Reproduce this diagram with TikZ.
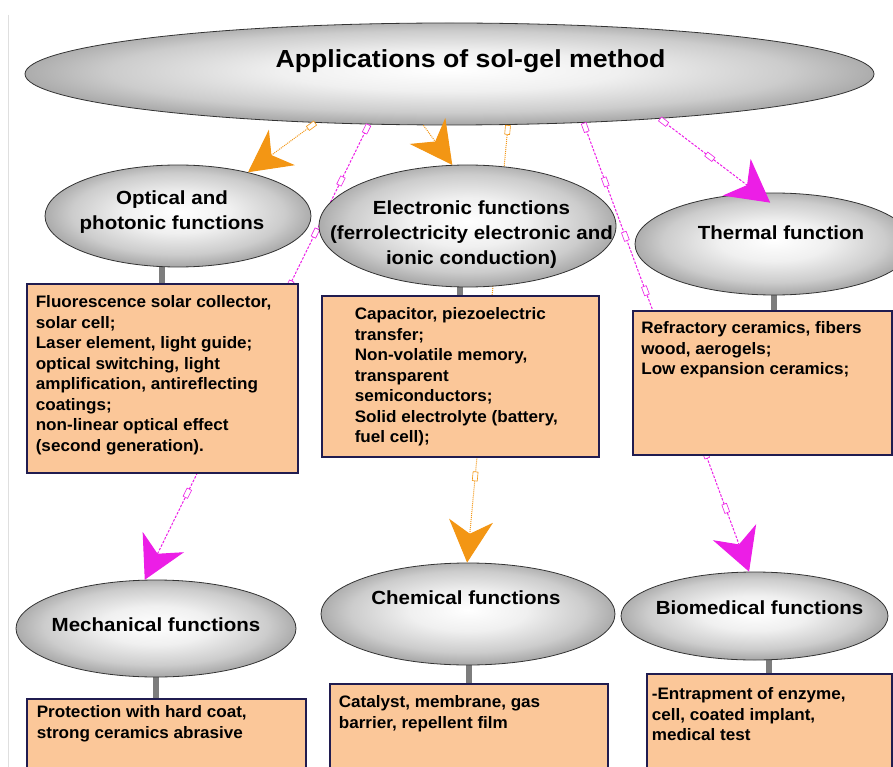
\documentclass[tikz,border=0pt]{standalone}
\usepackage{fontspec}
\setmainfont{Liberation Sans}[FakeStretch=1.08]
\newfontfamily\bodyfont{Liberation Sans}[FakeStretch=1.03]
\usetikzlibrary{shapes.geometric,arrows.meta,decorations.markings}
\definecolor{peach}{RGB}{251,199,153}
\definecolor{navy}{RGB}{32,28,80}
\definecolor{orng}{RGB}{243,150,20}
\definecolor{mgnt}{RGB}{236,30,230}
\definecolor{stemgray}{RGB}{125,125,125}
\pgfdeclarelayer{bg}
\pgfdeclarelayer{fg}
\pgfsetlayers{bg,main,fg}
\pgfdeclareradialshading{ovalshade}{\pgfpoint{0bp}{2bp}}{color(0bp)=(white); color(10bp)=(gray!12); color(20bp)=(gray!40); color(26bp)=(gray!70); color(50bp)=(gray!70)}
\newcommand{\boxbody}[5]{\parbox[c][#2][t]{#1}{\raggedright\leftskip=#4\relax\rule{0pt}{#3}#5}}
\tikzset{oval/.style={ellipse,draw=black!80,line width=0.8pt,shade,shading=ovalshade,inner sep=0pt},
	ovaltext/.style={font=\bfseries\fontsize{19}{25}\selectfont,align=center,inner sep=0pt},
	infobox/.style={draw=navy,line width=1.6pt,fill=peach,inner sep=0pt,anchor=north west,font=\bodyfont\bfseries\fontsize{16.6}{20.5}\selectfont},
	stem/.style={stemgray,line width=6pt},
	tagged/.style={postaction={decorate,decoration={markings,mark=between positions 5pt and -45pt step 58pt with {\draw[#1,solid,fill=white,line width=0.6pt] (-4.5pt,-2.5pt) rectangle (4.5pt,2.5pt);}}}},
	orline/.style={orng,densely dotted,line width=1pt,-{Stealth[length=42pt,width=44pt,inset=13pt]},tagged=orng},
	mgline/.style={mgnt,dash pattern=on 2.5pt off 1.5pt,line width=1pt,-{Stealth[length=42pt,width=46pt,inset=13pt]},tagged=mgnt},
}

\begin{document}
\begin{tikzpicture}[x=1pt,y=-1pt]
	\useasboundingbox (0,0) rectangle (893,767);
	\node[oval,minimum width=849pt,minimum height=102pt,label={[ovaltext,font=\bfseries\fontsize{24.7}{30}\selectfont,shift={(21pt,13pt)}]center:{Applications of sol-gel method}}] (app) at (449.5,74) {};
	
	\node[oval,minimum width=266pt,minimum height=102pt,label={[ovaltext,shift={(-6pt,3.5pt)}]center:{Optical and\\photonic functions}}] (opt) at (178,216) {};
	\node[oval,minimum width=278pt,minimum height=102pt,label={[ovaltext,shift={(7pt,11pt)}]center:{Thermal function}}] (therm) at (774,244) {};
	\node[oval,minimum width=280pt,minimum height=97pt,label={[ovaltext,shift={(0pt,3.5pt)}]center:{Mechanical functions}}] (mech) at (156,628.5) {};
	\node[oval,minimum width=294pt,minimum height=102pt,label={[ovaltext,shift={(-2pt,16pt)}]center:{Chemical functions}}] (chem) at (468,614) {};
	\node[oval,minimum width=267pt,minimum height=88pt,label={[ovaltext,shift={(5pt,8pt)}]center:{Biomedical functions}}] (bio) at (754.5,616) {};
	
	\begin{pgfonlayer}{fg}
	\node[oval,minimum width=297pt,minimum height=122pt,label={[ovaltext,shift={(4pt,-9pt)}]center:{Electronic functions\\(ferrolectricity electronic and\\ionic conduction)}}] (elec) at (467.5,226) {};
	
	\node[infobox] (optb) at (26,283) {\boxbody{271pt}{189pt}{24pt}{9pt}{Fluorescence solar collector,\\solar cell;\\Laser element, light guide;\\optical switching, light\\amplification, antireflecting\\coatings;\\non-linear optical effect\\(second generation).}};
	\node[infobox] (elecb) at (321,295) {\boxbody{277pt}{161pt}{24pt}{33pt}{Capacitor, piezoelectric\\transfer;\\Non-volatile memory,\\transparent\\semiconductors;\\Solid electrolyte (battery,\\fuel cell);}};
	\node[infobox] (thermb) at (632,310) {\boxbody{259pt}{144pt}{23pt}{8.5pt}{Refractory ceramics, fibers\\wood, aerogels;\\Low expansion ceramics;}};
	\node[infobox] (mechb) at (26,698) {\boxbody{279pt}{90pt}{19pt}{10pt}{Protection with hard coat,\\strong ceramics abrasive}};
	\node[infobox] (chemb) at (329,683) {\boxbody{278pt}{100pt}{24pt}{9pt}{Catalyst, membrane, gas\\barrier, repellent film}};
	\node[infobox] (biob) at (646,673) {\boxbody{245pt}{110pt}{26pt}{5pt}{-Entrapment of enzyme,\\cell, coated implant,\\medical test}};
	\end{pgfonlayer}
	
	\path
	(app.200) edge[orline] (opt.32)
	(app.243) edge[orline] (elec.104)
	(app.319) edge[orline] (chem.91)
	(app.212) edge[mgline] (mech.103)
	(app.340) edge[mgline] (bio.97)
	(app.348) edge[mgline,shorten >=-16pt] (therm.108);
	
	\begin{pgfonlayer}{bg}
	\draw[gray!25,line width=0.8pt] (8,15) -- (8,767);
	\draw[stem] (optb.north) -- (optb.north |- opt.center);
	\draw[stem] (elecb.north) -- (elecb.north |- elec.center);
	\draw[stem] (thermb.north -| therm.center) -- (therm.center);
	\draw[stem] (mechb.north -| mech.center) -- (mech.center);
	\draw[stem] (chemb.north) -- (chemb.north |- chem.center);
	\draw[stem] (biob.north) -- (biob.north |- bio.center);
	\end{pgfonlayer}
\end{tikzpicture}
\end{document}
